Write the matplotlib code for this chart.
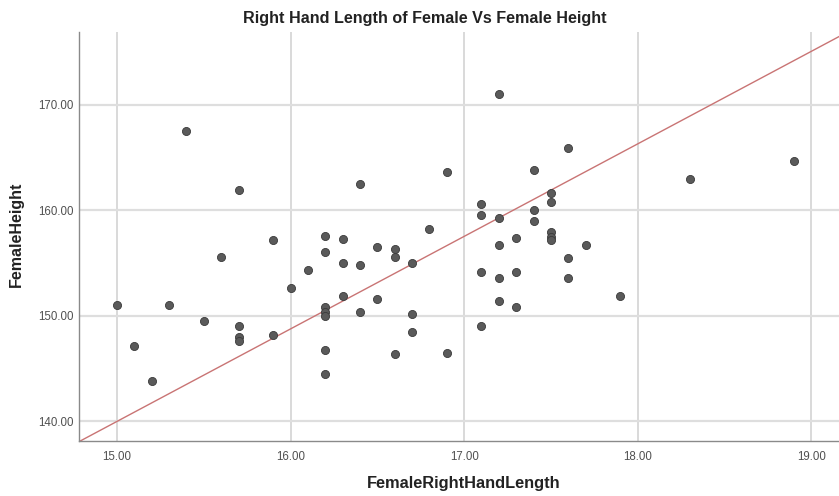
import matplotlib
matplotlib.use('Agg')
from matplotlib import pyplot as plt
import numpy as np

plt.rcParams['font.family'] = ['Liberation Sans', 'DejaVu Sans']

# hand length (cm) vs height (cm)
hand_len = [15.0, 15.1, 15.2, 15.3, 15.4, 15.5, 15.6, 15.7, 15.7, 15.7, 15.7,
            15.9, 15.9, 16.0, 16.1, 16.2, 16.2, 16.2, 16.2, 16.2, 16.2, 16.2,
            16.3, 16.3, 16.3, 16.4, 16.4, 16.4, 16.5, 16.5, 16.6, 16.6, 16.6,
            16.7, 16.7, 16.7, 16.8, 16.9, 16.9, 17.1, 17.1, 17.1, 17.1,
            17.2, 17.2, 17.2, 17.2, 17.2, 17.3, 17.3, 17.3, 17.4, 17.4, 17.4,
            17.5, 17.5, 17.5, 17.5, 17.5, 17.6, 17.6, 17.6, 17.7, 17.9, 18.3, 18.9]
height = [151.0, 147.1, 143.8, 151.0, 167.5, 149.5, 155.6, 161.9, 149.0, 148.0, 147.6,
          157.2, 148.2, 152.6, 154.3, 157.6, 156.0, 150.8, 150.4, 150.0, 146.8, 144.5,
          157.3, 155.0, 151.9, 162.5, 154.8, 150.4, 156.5, 151.6, 156.3, 155.6, 146.4,
          155.0, 150.2, 148.5, 158.2, 163.6, 146.5, 160.6, 159.5, 154.1, 149.0,
          171.0, 159.3, 156.7, 153.6, 151.4, 157.4, 154.1, 150.8, 163.8, 160.0, 159.0,
          161.6, 160.8, 157.9, 157.5, 157.2, 165.9, 155.5, 153.6, 156.7, 151.9, 163.0, 164.7]

xticks = [15, 16, 17, 18, 19]
yticks = [140, 150, 160, 170]

# reference line
slope = 8.76
icpt = 140 - slope*15

fig = plt.figure(figsize=(8.39, 4.96), dpi=100)
ax = fig.add_axes([0.094, 0.11, 0.906, 0.826])

ax.set_xlim(14.78, 19.16)
ax.set_ylim(138.1, 176.9)

for xt in xticks:
    ax.axvline(xt, color='#cfcfcf', lw=1.1, zorder=0)
for yt in yticks:
    ax.axhline(yt, color='#dedede', lw=1.6, zorder=0)

xl = np.array([14.78, 19.16])
ax.plot(xl, icpt + slope*xl, color='#c97474', lw=1.0, zorder=2)

ax.scatter(hand_len, height, s=34, facecolor='#5a5a5a', edgecolor='#3a3a3a',
           linewidth=0.6, zorder=3)

ax.set_xticks(xticks)
ax.set_xticklabels(['{:.2f}'.format(v) for v in xticks])
ax.set_yticks(yticks)
ax.set_yticklabels(['{:.2f}'.format(v) for v in yticks])
ax.tick_params(length=0, labelsize=8.3, labelcolor='#505050')
ax.tick_params(axis='x', pad=7)
ax.tick_params(axis='y', pad=4)

for s in ['top', 'right']:
    ax.spines[s].set_visible(False)
for s in ['left', 'bottom']:
    ax.spines[s].set_color('#8a8a8a')
    ax.spines[s].set_linewidth(1.0)

fig.text(0.506, 0.963, 'Right Hand Length of Female Vs Female Height',
         ha='center', va='center', fontsize=11.6, fontweight='bold', color='#222222')
fig.text(0.553, 0.026, 'FemaleRightHandLength', ha='center', va='center',
         fontsize=11.8, fontweight='bold', color='#222222')
fig.text(0.02, 0.528, 'FemaleHeight', ha='center', va='center', rotation=90,
         fontsize=11.5, fontweight='bold', color='#222222')

fig.savefig('out.png', dpi=100)
